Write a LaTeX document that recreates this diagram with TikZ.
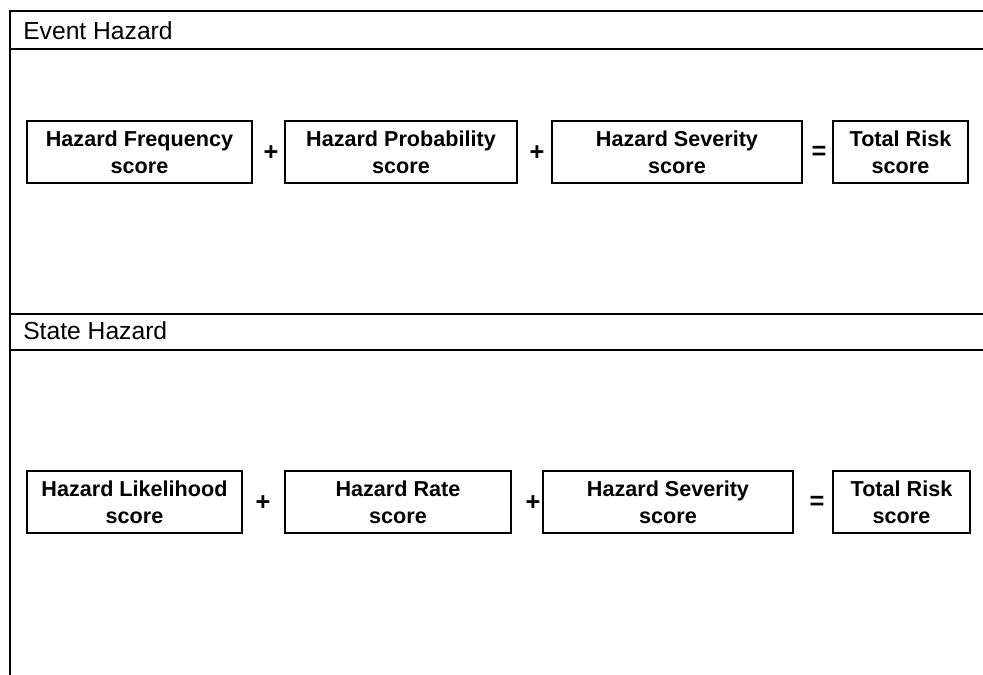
\documentclass[tikz,border=0pt]{standalone}
\usepackage{fontspec}
\setmainfont{Liberation Sans}
\begin{document}
\begin{tikzpicture}[x=0.75pt,y=-0.75pt,
  frame/.style={line width=2pt},
  scorebox/.style={draw,line width=1.2pt,minimum height=46.5pt,inner sep=0pt,
    align=center,font=\fontsize{16.2}{20.5}\selectfont\bfseries},
  op/.style={font=\fontsize{19}{20}\selectfont\bfseries,inner sep=0pt},
  header/.style={anchor=base west,font=\fontsize{18.5}{20}\selectfont,inner sep=0pt}]
\useasboundingbox (0,0) rectangle (983,675);
% frame lines
\coordinate (tl) at (10,11);
\coordinate (bl) at (10,675);
\draw[frame] (983,11) -- (tl) -- (bl);
\draw[frame] (10,49) -- (983,49);
\draw[frame] (10,314) -- (983,314);
\draw[frame] (10,350) -- (983,350);
% headers
\node[header] (h1) at (23,39) {Event Hazard};
\node[header] (h2) at (23,339) {State Hazard};
% row 1
\node[scorebox,minimum width=168.75pt] (a1) at (139.5,152) {Hazard Frequency\\score};
\node[scorebox,minimum width=174pt] (a2) at (401,152) {Hazard Probability\\score};
\node[scorebox,minimum width=187.5pt] (a3) at (677,152) {Hazard Severity\\score};
\node[scorebox,minimum width=101.25pt] (a4) at (900.5,152) {Total Risk\\score};
\node[op] (p1) at (271,153) {+};
\node[op] (p2) at (537,153) {+};
\node[op] (e1) at (819,153) {=};
% row 2
\node[scorebox,minimum width=161.25pt] (b1) at (134.5,502) {Hazard Likelihood\\score};
\node[scorebox,minimum width=169.5pt] (b2) at (398,502) {Hazard Rate\\score};
\node[scorebox,minimum width=187.5pt] (b3) at (668,502) {Hazard Severity\\score};
\node[scorebox,minimum width=102.75pt] (b4) at (901.5,502) {Total Risk\\score};
\node[op] (p3) at (263,503) {+};
\node[op] (p4) at (533,503) {+};
\node[op] (e2) at (817,503) {=};
\end{tikzpicture}
\end{document}
